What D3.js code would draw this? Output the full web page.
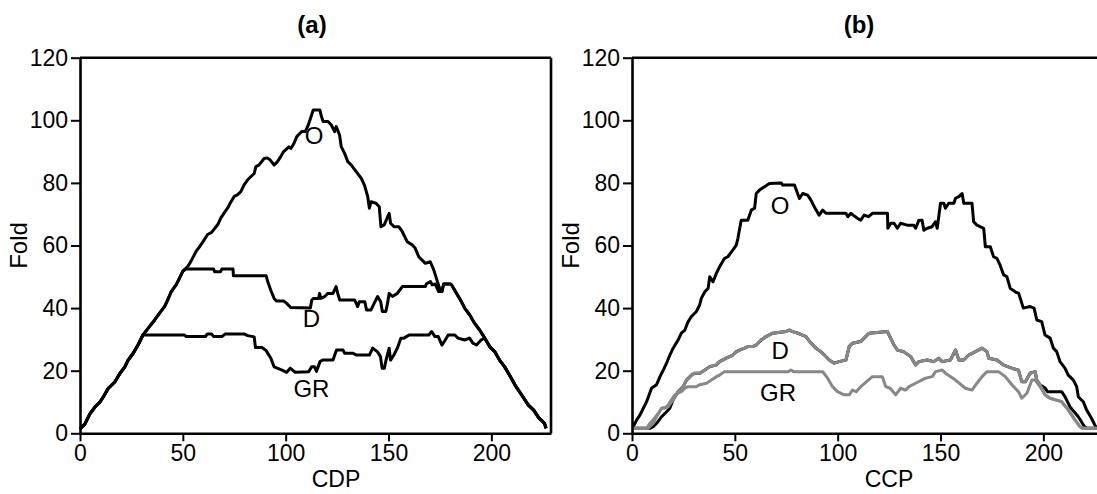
<!DOCTYPE html>
<html>
<head>
<meta charset="utf-8">
<script src="https://cdn.jsdelivr.net/npm/d3@7"></script>
<style>
  html, body { margin: 0; padding: 0; background: #fff; }
  svg text { font-family: "Liberation Sans", Arial, sans-serif; }
</style>
</head>
<body>
<svg id="chart" width="1097" height="494"></svg>
<script>
// ---- Fold profiles along CDP (panel a) ----
const cdpO = [[0,1.4],[2.4,3],[4.8,6.2],[7.3,8.4],[9.7,10],[11.3,11.6],[13.7,14.3],[16.9,16.4],[19.4,19.1],[21.8,21.2],[23.4,23.4],[25.8,25.5],[28.2,28.2],[30.6,31.4],[33.1,33.5],[36.3,36.2],[38.7,38.4],[41.1,40.5],[42.7,42.7],[44.4,45.3],[46.8,47.5],[48.4,49.6],[50,51.8],[52.4,53.3],[54,55],[56.5,58.2],[58,59.5],[60,61.4],[62,63.5],[64,64.2],[67,66.7],[68.5,68.8],[71.8,72],[73,73.5],[75,75.7],[76.5,76.2],[78.2,77.2],[79.8,79.4],[81.5,81],[84.7,83],[85.5,85.2],[87,85.7],[89.5,87.8],[91,88],[92.5,87.3],[94.4,85.7],[96,86.8],[97.6,88.4],[99,90],[101.6,91.5],[102.5,91],[104,92.6],[105.4,94.8],[107.8,96.4],[109.5,96.4],[111,98.5],[112.6,101.7],[113.4,103.3],[116.6,103.3],[117.4,101.2],[118.2,99.6],[120.6,99.6],[122.2,98.5],[123.8,96.4],[124.6,98],[126.2,95.3],[127,91.6],[128.6,89.5],[130.2,86.8],[131.9,85.7],[134.3,83.6],[136.7,81.5],[138.3,79.3],[139.9,75.6],[140.7,71.9],[141.5,74],[143.9,73.5],[145.5,72.4],[146.3,66],[147.9,66.6],[150.3,70.3],[151,67.1],[152.7,66],[155,66],[156.7,64.4],[159.1,61.2],[161.5,60.2],[163,59.1],[164.7,56.4],[167.9,54.3],[170.3,54.8],[172,52.2],[173.5,49],[175.1,45.8],[176,45.3],[176.8,47.7],[180,47.7],[180.7,47.4],[183.1,44.7],[185.5,42],[187.1,39.9],[189.5,37.8],[191.9,35.1],[194.3,33],[196.8,30.4],[199.2,27.7],[201.6,26.1],[204,23.4],[206.4,21.3],[208.8,18.6],[212,14.9],[215,12],[218,9],[220.6,7.4],[223,5],[225.8,3.2],[226.6,1.6]];

const cdpD = [[0,1.4],[2.4,3],[4.8,6.2],[7.3,8.4],[9.7,10],[11.3,11.6],[13.7,14.3],[16.9,16.4],[19.4,19.1],[21.8,21.2],[23.4,23.4],[25.8,25.5],[28.2,28.2],[30.6,31.4],[33.1,33.5],[36.3,36.2],[38.7,38.4],[41.1,40.5],[42.7,42.7],[44.4,45.3],[46.8,47.5],[48.4,49.6],[50,51.8],[51.5,52.5],[64.9,52.5],[65.5,51.6],[68.3,51.6],[69,52.5],[74.4,52.5],[74.6,50.3],[90.5,50.3],[91.5,48],[93,45.3],[94.4,43.1],[95.5,42.3],[99,42.3],[100.5,41.5],[102.4,40.2],[112,40],[112.7,42.6],[113.5,43.1],[116,43.1],[116.5,44.7],[117,43.1],[119,43.7],[120.5,44.7],[123,44.7],[124.5,46.9],[125.3,44.7],[126.3,42.6],[133.5,42.6],[134.3,41.5],[135,40.5],[135.8,42],[138.5,42],[139.3,39.4],[141.5,39.4],[143,41.5],[144.7,43.7],[146.2,42],[147,38.9],[148.7,38.9],[149.5,41.5],[150.3,44.7],[151.9,43.7],[154.3,44.7],[156.7,46.9],[168,46.9],[168.3,47.7],[170.4,48.5],[171.2,47.4],[172.7,47.7],[174.4,45.3],[176,45.3],[176.8,47.7],[180,47.7],[180.7,47.4],[183.1,44.7],[185.5,42],[187.1,39.9],[189.5,37.8],[191.9,35.1],[194.3,33],[196.8,30.4],[199.2,27.7],[201.6,26.1],[204,23.4],[206.4,21.3],[208.8,18.6],[212,14.9],[215,12],[218,9],[220.6,7.4],[223,5],[225.8,3.2],[226.6,1.6]];

const cdpGR = [[0,1.4],[2.4,3],[4.8,6.2],[7.3,8.4],[9.7,10],[11.3,11.6],[13.7,14.3],[16.9,16.4],[19.4,19.1],[21.8,21.2],[23.4,23.4],[25.8,25.5],[28.2,28.2],[30.6,31.4],[50.8,31.4],[51.5,30.9],[61,30.9],[61.8,31.7],[64,31.7],[65,30.9],[69,30.9],[70.5,31.7],[80,31.7],[81.5,31.2],[84.7,30.8],[85.3,27.4],[88.5,27.4],[90.5,26.4],[92.8,24],[94.4,21.2],[98.5,20.1],[100.5,19.5],[102.2,20.8],[104.6,19.5],[111.2,19.7],[112.6,21.3],[114,21.3],[115,19.8],[116.7,22.9],[118,23.4],[123,23.4],[124.7,26.6],[127.9,26.6],[128.6,25.6],[132.6,25.6],[134.3,25],[140.7,25],[142.3,27.2],[144.7,26],[146.1,24.5],[146.9,20.8],[148,20.8],[148.8,23.4],[150.3,27.2],[151,23.4],[152.6,25],[154.3,27.2],[156,30.4],[157.5,30.4],[160,31.4],[169.6,31.4],[171,32.5],[172.6,30.9],[174.2,30.9],[176,28.2],[177.6,29.8],[179,31.4],[182.2,31.4],[183.8,30.4],[187,29.8],[189.4,30.4],[191,28.8],[192.8,28.2],[195,29.8],[196.8,30.4],[199.2,27.7],[201.6,26.1],[204,23.4],[206.4,21.3],[208.8,18.6],[212,14.9],[215,12],[218,9],[220.6,7.4],[223,5],[225.8,3.2],[226.6,1.6]];

// ---- Fold profiles along CCP (panel b) ----
const ccpO = [[0,2],[0.6,2.1],[2.3,4.3],[3.9,5.9],[5.5,8],[7.1,10.1],[9.5,14.4],[11.9,15.5],[13.6,18.1],[15.2,20.2],[16.8,22.4],[18.4,25],[20,27.2],[22.4,29.8],[24,32],[25.7,33],[27.3,35.7],[28.9,37.3],[31.3,38.9],[32.9,41],[33.7,43.1],[35.4,45.2],[37,46.3],[37.8,50],[39.4,48.4],[41,51.1],[42.6,53.2],[45,55.9],[46.6,56.4],[49,58.5],[50.7,60.1],[51.5,62.3],[53.1,68.1],[56.3,68.1],[58,71.3],[59.6,71.9],[60.4,76.6],[62,77.7],[64.4,78.8],[66.8,79.8],[72.5,80],[73.3,79.3],[79,79.3],[81.4,75],[83,76.6],[85.4,76.1],[87,74.5],[88.6,72.4],[91,69.7],[92.7,71.3],[94.3,70.3],[104,70.3],[105,69.2],[106.4,70.3],[107.5,69.7],[109.6,68.7],[111.2,68.1],[112.9,69.7],[115,69.2],[116.9,70.3],[124.2,70.3],[124.4,65.5],[125.8,67.1],[127.4,67.1],[129,65.5],[130.6,67.1],[133.8,66.5],[137,66.5],[137.9,65.5],[139.5,68.1],[141,68.1],[141.9,64.9],[143.5,65.5],[145.9,66],[147.6,67.6],[148.4,65.5],[150,73.5],[151.6,73.5],[152.4,71.9],[154,73.5],[156.5,73.5],[157.3,75.1],[158.9,75.6],[160.5,76.6],[161.3,73.5],[165.3,73.5],[166.1,67.6],[167.7,66.5],[171,65.5],[171.8,59.6],[174.2,59.6],[175.8,56.4],[177.4,55.9],[179,53.7],[180.7,50.6],[182.3,50],[183.9,46.3],[186.3,45.2],[188,44.7],[190.3,40],[193.6,40.5],[195.5,40],[196.8,36.2],[199.2,35.7],[200.8,31.4],[203.3,30.4],[204.9,27.2],[206.5,26.1],[208.1,22.9],[210.5,20.8],[212.1,18.6],[214.6,17],[216.2,14.9],[217,11.7],[219.4,10.1],[221,7.5],[223.4,4.8],[225,2.7],[226,1.5]];

// dark trace lying under the D profile, seen only at both ends
const ccpDark = [[0,1.6],[8.7,1.6],[10.3,2.1],[12,3.2],[14.4,5.3],[16.8,6.9],[18.4,8],[20,10.7],[22.4,13.3],[24.9,14.9],[26.5,17],[28.9,18.6],[30.5,19.2],[33,19.2],[35.4,20.2],[37.8,21.3],[41,21.8],[42.6,22.9],[45.8,24],[49,25],[50.7,26.1],[52.3,26.6],[54.7,27.2],[56.3,27.7],[58.5,27.7],[60.4,28.2],[62.8,29.8],[65.2,30.9],[68.4,32],[74.9,32.5],[76.5,33],[78.1,32.5],[80.5,32],[84.6,30.9],[87,28.8],[89.4,27.2],[91.8,26.1],[93.5,25],[95.9,23.4],[98.3,22.4],[100.7,22.9],[104,23.4],[105.6,27.7],[107.2,28.8],[111.2,29.3],[115.3,32],[124.2,32.5],[127.4,28.2],[129,26.6],[132,26.1],[135.5,24.5],[137.9,21.8],[139.5,22.9],[143.5,23.4],[146.7,22.9],[149.2,24],[150.8,22.9],[154.8,23.4],[157.3,26.6],[158.9,23.4],[161.3,23.4],[163.7,25],[167,26.1],[170.2,27.2],[172.6,26.1],[173.4,24],[177.4,23.4],[180.7,21.8],[184.7,20.8],[187.9,20.2],[189.5,16.5],[191.2,16.5],[193.6,19.2],[196,19.7],[196.8,17],[198.4,15.5],[200.8,14.5],[202,13.3],[208.9,13.3],[210.5,11.7],[212.9,8.5],[217,5.3],[220,2.1],[221,1.6],[226,1.6]];

const ccpD = [[0,1.6],[7.9,1.6],[10.3,3.2],[11.9,5.3],[14.4,8],[17.6,8.5],[20,10.7],[22.4,13.3],[24.9,14.9],[26.5,17],[28.9,18.6],[30.5,19.2],[33,19.2],[35.4,20.2],[37.8,21.3],[41,21.8],[42.6,22.9],[45.8,24],[49,25],[50.7,26.1],[52.3,26.6],[54.7,27.2],[56.3,27.7],[58.5,27.7],[60.4,28.2],[62.8,29.8],[65.2,30.9],[68.4,32],[74.9,32.5],[76.5,33],[78.1,32.5],[80.5,32],[84.6,30.9],[87,28.8],[89.4,27.2],[91.8,26.1],[93.5,25],[95.9,23.4],[98.3,22.4],[100.7,22.9],[104,23.4],[105.6,27.7],[107.2,28.8],[111.2,29.3],[115.3,32],[124.2,32.5],[127.4,28.2],[129,26.6],[132,26.1],[135.5,24.5],[137.9,21.8],[139.5,22.9],[143.5,23.4],[146.7,22.9],[149.2,24],[150.8,22.9],[154.8,23.4],[157.3,26.6],[158.9,23.4],[161.3,23.4],[163.7,25],[167,26.1],[170.2,27.2],[172.6,26.1],[173.4,24],[177.4,23.4],[180.7,21.8],[184.7,20.8],[187.9,20.2],[189.5,16.5],[191.2,16.5],[193.6,19.2],[196,19.7],[196.8,17],[198.4,15.5],[200.8,12.3],[203.3,11.2],[208.9,10.1],[212.1,7.5],[215.4,4.3],[217.8,2.1],[219,1.6],[226,1.6]];

const ccpGR = [[0,1.6],[7.1,1.6],[8.7,3.2],[10.3,4.3],[12.8,6.4],[14.4,8],[16,8],[17.6,9.1],[19.2,10.7],[20.8,12.3],[22.4,12.8],[24,13.3],[25.7,14.4],[27.3,14.9],[31.3,14.9],[32.9,15.5],[36.2,16],[38.6,17],[41,18.1],[42.6,18.6],[45,19.7],[76,19.7],[77.3,20.2],[78.5,19.7],[92.7,19.7],[95.1,17.6],[97.5,14.9],[99.9,13.3],[103.1,12.3],[105.6,12.3],[107.2,13.8],[109,13.3],[111.2,14.9],[116.9,18.1],[121.7,18.1],[123.4,14.9],[125.5,14.4],[128.2,12.3],[130.6,14.4],[133,13.8],[134.7,14.9],[137.9,16],[142.7,17.6],[146,18.1],[147.6,19.7],[150.8,20.2],[152.4,19.2],[157.3,17],[162.1,14.4],[165.3,13.8],[167.7,16],[170.2,18.1],[172.6,19.7],[178.2,19.7],[181.5,18.1],[184.7,15.5],[187.9,13.3],[189.5,11.2],[192,12.8],[194.4,17],[196,17],[198.4,14.9],[200.8,12.3],[203.3,11.2],[208.9,10.1],[212.1,7.5],[215.4,4.3],[217.8,2.1],[219,1.6],[226,1.6]];

// ---- Axis ticks ----
const xTicks = [0, 50, 100, 150, 200];
const yTicks = [0, 20, 40, 60, 80, 100, 120];

// ---- Curve labels, in data units of each panel ----
const labelsA = [["O", 113.8, 95.3], ["D", 112.5, 36.8], ["GR", 112.5, 14.4]];
const labelsB = [["O", 72, 72.9], ["D", 72, 26.5], ["GR", 71, 13]];

const svg = d3.select("#chart");
const plotTop = 57.7, plotBottom = 433.3;
const y = d3.scaleLinear().domain([0, 120]).range([plotBottom, plotTop]);

function panel(opts) {
  const x = d3.scaleLinear().domain([0, 229]).range([opts.left, opts.right]);
  const g = svg.append("g");

  // frame: top and right edges
  g.append("line").attr("x1", opts.left).attr("x2", opts.right)
    .attr("y1", plotTop).attr("y2", plotTop)
    .attr("stroke", "#000").attr("stroke-width", 2.6);
  g.append("line").attr("x1", opts.right).attr("x2", opts.right)
    .attr("y1", plotTop).attr("y2", plotBottom)
    .attr("stroke", "#000").attr("stroke-width", 2.6);

  const line = d3.line().x(d => x(d[0])).y(d => y(d[1]));
  opts.series.forEach(s => {
    g.append("path").datum(s.data)
      .attr("d", line)
      .attr("fill", "none")
      .attr("stroke", s.color)
      .attr("stroke-width", 3)
      .attr("stroke-linejoin", "round");
  });

  const yAxis = g.append("g").attr("transform", `translate(${opts.left},0)`)
    .call(d3.axisLeft(y).tickValues(yTicks).tickSize(9).tickSizeOuter(0).tickPadding(3));
  const xAxis = g.append("g").attr("transform", `translate(0,${plotBottom})`)
    .call(d3.axisBottom(x).tickValues(xTicks).tickSize(8).tickSizeOuter(0).tickPadding(3));
  [yAxis, xAxis].forEach(a => {
    a.select(".domain").attr("stroke", "#000").attr("stroke-width", 2.6);
    a.selectAll(".tick line").attr("stroke", "#000").attr("stroke-width", 2);
    a.selectAll(".tick text").attr("fill", "#000")
      .style("font-size", "23px")
      .style("font-family", "'Liberation Sans', Arial, sans-serif");
  });

  opts.labels.forEach(l => {
    g.append("text").attr("x", x(l[1])).attr("y", y(l[2]))
      .attr("text-anchor", "middle").attr("dominant-baseline", "central")
      .style("font-size", "24px").text(l[0]);
  });

  g.append("text").attr("x", opts.titleX).attr("y", 24)
    .attr("text-anchor", "middle").attr("dominant-baseline", "central")
    .style("font-size", "24px").style("font-weight", "bold").text(opts.title);

  g.append("text").attr("x", opts.xLabelX).attr("y", 479)
    .attr("text-anchor", "middle").attr("dominant-baseline", "central")
    .style("font-size", "23px").text(opts.xLabel);

  g.append("text")
    .attr("transform", `translate(${opts.left - 62},${(plotTop + plotBottom) / 2}) rotate(-90)`)
    .attr("text-anchor", "middle").attr("dominant-baseline", "central")
    .style("font-size", "24px").text("Fold");
}

panel({
  left: 80, right: 551, title: "(a)", titleX: 312, xLabel: "CDP", xLabelX: 336,
  labels: labelsA,
  series: [
    { data: cdpGR, color: "#000" },
    { data: cdpD, color: "#000" },
    { data: cdpO, color: "#000" }
  ]
});

panel({
  left: 632, right: 1103, title: "(b)", titleX: 859, xLabel: "CCP", xLabelX: 889,
  labels: labelsB,
  series: [
    { data: ccpO, color: "#000" },
    { data: ccpDark, color: "#000" },
    { data: ccpGR, color: "#888" },
    { data: ccpD, color: "#888" }
  ]
});
</script>
</body>
</html>
